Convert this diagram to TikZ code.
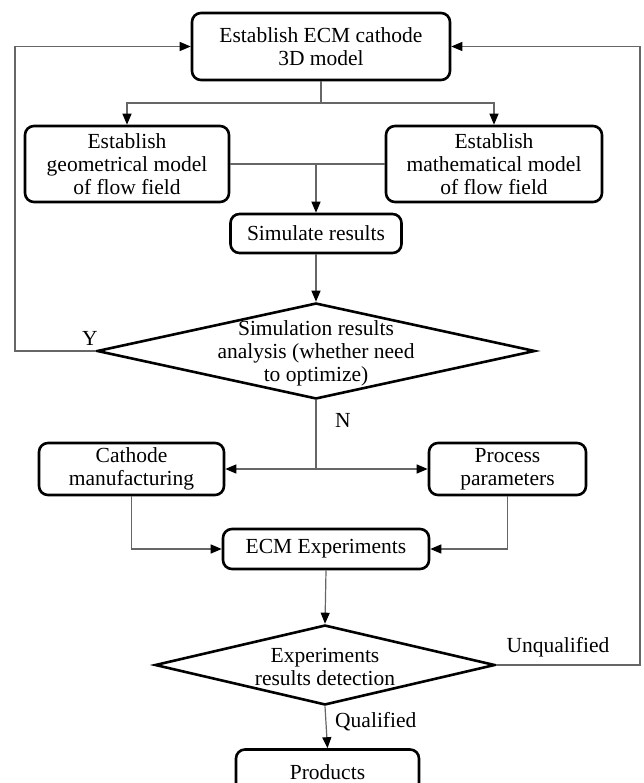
\documentclass[tikz,border=0pt]{standalone}
\usepackage{fontspec}
\setmainfont{Liberation Serif}
\usetikzlibrary{shapes.geometric,arrows.meta}
\newcommand\figfont{\fontsize{21.5}{23}\selectfont}
\begin{document}
\begin{tikzpicture}[x=1pt,y=-1pt,
  box/.style={draw=black,line width=2.6pt,rounded corners=9pt,inner sep=0pt,align=center,font=\figfont},
  dia/.style={draw=black,line width=2.6pt,shape=diamond,inner sep=0pt},
  txt/.style={inner sep=0pt,align=center,font=\figfont},
  conn/.style={draw=black!60,line width=1.2pt},
  arr/.style={conn,-{Triangle[length=11pt,width=9pt,color=black]}}]
\useasboundingbox (0,0) rectangle (644,783);
\fill[white] (0,0) rectangle (644,783);
\clip (0,0) rectangle (644,783);

% nodes
\node[box,minimum width=258pt,minimum height=67pt] (top) at (321,46.5) {Establish ECM cathode\\3D model};
\node[box,minimum width=204pt,minimum height=76pt] (geo) at (127,164) {Establish\\geometrical model\\of flow field};
\node[box,minimum width=216pt,minimum height=76pt] (math) at (494,164) {Establish\\mathematical model\\of flow field};
\node[box,minimum width=171pt,minimum height=39pt] (sim) at (316,233.5) {Simulate results};
\node[dia,minimum width=438pt,minimum height=96pt] (d1) at (316,351) {};
\node[txt] (d1t) at (316,353) {Simulation results\\analysis (whether need\\to optimize)};
\node[box,minimum width=185pt,minimum height=52pt] (cath) at (131.5,469) {Cathode\\manufacturing};
\node[box,minimum width=157pt,minimum height=52pt] (proc) at (507.5,469) {Process\\parameters};
\node[box,minimum width=206pt,minimum height=40pt] (ecm) at (326,549) {ECM Experiments};
\node[dia,minimum width=340pt,minimum height=80pt] (d2) at (325,665) {};
\node[txt] (d2t) at (325,667) {Experiments\\results detection};
\node[box,minimum width=183pt,minimum height=45pt] (prod) at (327.5,772) {Products};

% labels
\node[txt] (ly) at (90,338) {Y};
\node[txt] (ln) at (343,420) {N};
\node[txt] (lu) at (558,647) {Unqualified};
\node[txt,anchor=west] (lq) at (335,722) {Qualified};

% coordinates
\coordinate (s1) at (321,103);
\coordinate (s2) at (316,164);
\coordinate (s3) at (316,469);
\coordinate (lf) at (15,351);
\coordinate (rt) at (640,665);

% connectors
\draw[conn] (top.south) -- (s1);
\draw[arr] (s1) -| (geo.north);
\draw[arr] (s1) -| (math.north);
\draw[conn] (geo.east) -- (math.west);
\draw[arr] (s2) -- (sim.north);
\draw[arr] (sim.south) -- (d1.north);
\draw[arr] (d1.west) -- (lf) |- (top.west);
\draw[conn] (d1.south) -- (s3);
\draw[arr] (s3) -- (cath.east);
\draw[arr] (s3) -- (proc.west);
\draw[arr] (cath.south) |- (ecm.west);
\draw[arr] (proc.south) |- (ecm.east);
\draw[arr] (ecm.south) -- (d2.north);
\draw[arr] (d2.east) -- (rt) |- (top.east);
\draw[arr] (d2.south) -- (prod.north);
\end{tikzpicture}
\end{document}
